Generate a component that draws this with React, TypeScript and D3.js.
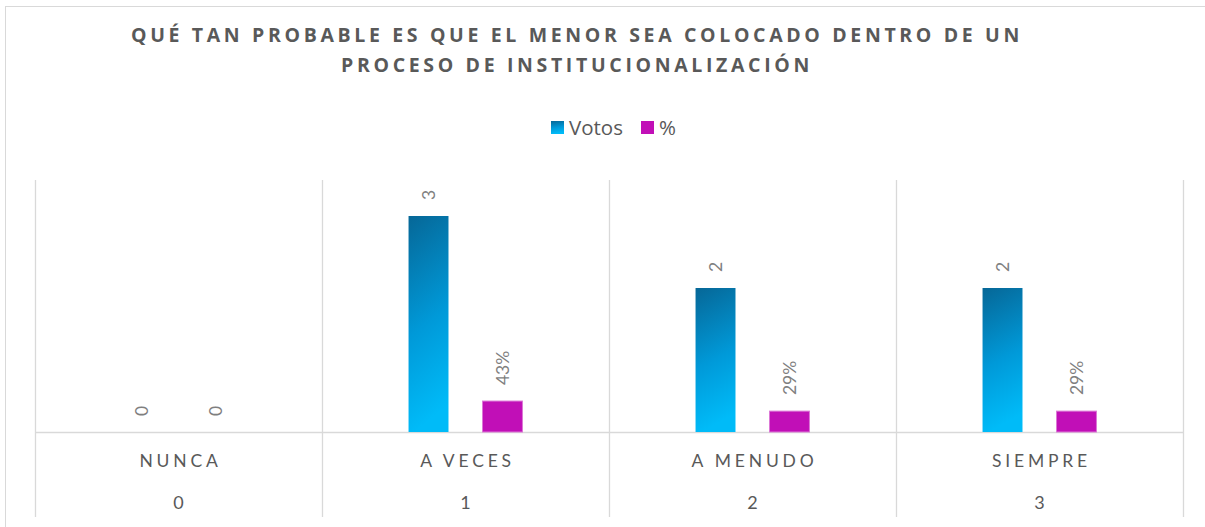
import React, { useRef, useEffect } from 'react';
import * as d3 from 'd3';

// chart data
const categories = ['NUNCA', 'A VECES', 'A MENUDO', 'SIEMPRE'];
const codes = ['0', '1', '2', '3'];
const votos = [0, 3, 2, 2];
const porcentaje = [0, 0.43, 0.29, 0.29];
const seriesNames = ['Votos', '%'];
const titleLines = [
  'QUÉ TAN PROBABLE ES QUE EL MENOR SEA COLOCADO DENTRO DE UN',
  'PROCESO DE INSTITUCIONALIZACIÓN',
];

const W = 1205;
const H = 527;

const App = () => {
  const ref = useRef<SVGSVGElement>(null);

  useEffect(() => {
    const svg = d3.select(ref.current);
    svg.selectAll('*').remove();

    const grid = '#d9d9d9';
    const textGray = '#595959';
    const margin = { left: 35, right: 22, top: 180, bottom: 95 };
    const plotBottom = H - margin.bottom; // axis line

    // gradient for Votos bars
    const defs = svg.append('defs');
    const grad = defs.append('linearGradient')
      .attr('id', 'votosGrad')
      .attr('x1', 0).attr('y1', 0).attr('x2', 0.15).attr('y2', 1);
    grad.append('stop').attr('offset', '0%').attr('stop-color', '#066797');
    grad.append('stop').attr('offset', '55%').attr('stop-color', '#0099d8');
    grad.append('stop').attr('offset', '100%').attr('stop-color', '#00bbf8');

    // outer frame
    svg.append('rect')
      .attr('x', 5.5).attr('y', 6.5)
      .attr('width', W + 20).attr('height', H + 20)
      .attr('fill', '#fff').attr('stroke', grid);

    // title
    svg.append('g')
      .selectAll('text')
      .data(titleLines)
      .enter().append('text')
      .attr('x', 577)
      .attr('y', (d, i) => 42 + i * 30)
      .attr('text-anchor', 'middle')
      .attr('font-family', '"Open Sans", sans-serif')
      .attr('font-weight', 700)
      .attr('font-size', 19.5)
      .attr('letter-spacing', 3.65)
      .attr('fill', textGray)
      .text(d => d);

    // scales
    const x0 = d3.scaleBand()
      .domain(categories)
      .range([margin.left, W - margin.right])
      .paddingInner(0)
      .paddingOuter(0);

    const x1 = d3.scaleBand()
      .domain(seriesNames)
      .range([0, x0.bandwidth()])
      .paddingInner(0.46)
      .paddingOuter(1.17);

    const y = d3.scaleLinear()
      .domain([0, 3.5])
      .range([plotBottom, margin.top]);

    // vertical category separators (run through the table rows)
    const edges = categories.map(c => x0(c) as number).concat([W - margin.right]);
    svg.append('g')
      .selectAll('line')
      .data(edges)
      .enter().append('line')
      .attr('x1', d => Math.round(d) + 0.5)
      .attr('x2', d => Math.round(d) + 0.5)
      .attr('y1', margin.top)
      .attr('y2', 517)
      .attr('stroke', grid)
      .attr('stroke-width', 1.3);

    // axis line
    svg.append('line')
      .attr('x1', margin.left).attr('x2', W - margin.right)
      .attr('y1', plotBottom + 0.5).attr('y2', plotBottom + 0.5)
      .attr('stroke', grid).attr('stroke-width', 1.5);

    const seriesData = [votos, porcentaje];
    const fills = ['url(#votosGrad)', '#c10fb7'];
    const fmt = (v: number, s: number) => (s === 0 || v === 0 ? d3.format('d')(v) : d3.format('.0%')(v));

    seriesNames.forEach((name, s) => {
      const g = svg.append('g');
      const vals = seriesData[s];

      g.selectAll('rect')
        .data(vals)
        .enter().append('rect')
        .attr('x', (d, i) => (x0(categories[i]) as number) + (x1(name) as number))
        .attr('y', d => y(d))
        .attr('width', x1.bandwidth())
        .attr('height', d => plotBottom - y(d))
        .attr('fill', fills[s])
        .attr('stroke', s === 1 ? '#dc78d6' : 'none')
        .attr('stroke-width', s === 1 ? 1 : 0);

      // rotated value labels
      g.selectAll('text')
        .data(vals)
        .enter().append('text')
        .attr('transform', (d, i) => {
          const cx = (x0(categories[i]) as number) + (x1(name) as number) + x1.bandwidth() / 2;
          return `translate(${cx},${y(d) - 16}) rotate(-90)`;
        })
        .attr('text-anchor', 'start')
        .attr('dominant-baseline', 'central')
        .attr('font-family', 'Lato, sans-serif')
        .attr('font-size', 17.5)
        .attr('fill', '#7f7f7f')
        .text(d => fmt(d, s));
    });

    // category names row
    svg.append('g')
      .selectAll('text')
      .data(categories)
      .enter().append('text')
      .attr('x', d => (x0(d) as number) + x0.bandwidth() / 2 + 2)
      .attr('y', 467)
      .attr('text-anchor', 'middle')
      .attr('font-family', 'Lato, sans-serif')
      .attr('font-size', 17.5)
      .attr('letter-spacing', 3.8)
      .attr('fill', textGray)
      .text(d => d);

    // code row
    svg.append('g')
      .selectAll('text')
      .data(codes)
      .enter().append('text')
      .attr('x', (d, i) => (x0(categories[i]) as number) + x0.bandwidth() / 2)
      .attr('y', 509)
      .attr('text-anchor', 'middle')
      .attr('font-family', 'Lato, sans-serif')
      .attr('font-size', 18)
      .attr('fill', textGray)
      .text(d => d);

    // legend
    const legend = svg.append('g');
    const legendItems = [
      { label: seriesNames[0], fill: 'url(#votosGrad)', x: 551, tx: 569 },
      { label: seriesNames[1], fill: '#c10fb7', x: 641, tx: 659 },
    ];
    legendItems.forEach(it => {
      legend.append('rect')
        .attr('x', it.x).attr('y', 121)
        .attr('width', 13).attr('height', 13)
        .attr('fill', it.fill);
      legend.append('text')
        .attr('x', it.tx).attr('y', 135)
        .attr('font-family', '"Open Sans", sans-serif')
        .attr('font-size', 20.5)
        .attr('fill', textGray)
        .text(it.label);
    });
  }, []);

  return (
    <svg
      ref={ref}
      width={W}
      height={H}
      style={{ position: 'absolute', left: 0, top: 0, display: 'block', background: '#fff' }}
    />
  );
};

export default App;
